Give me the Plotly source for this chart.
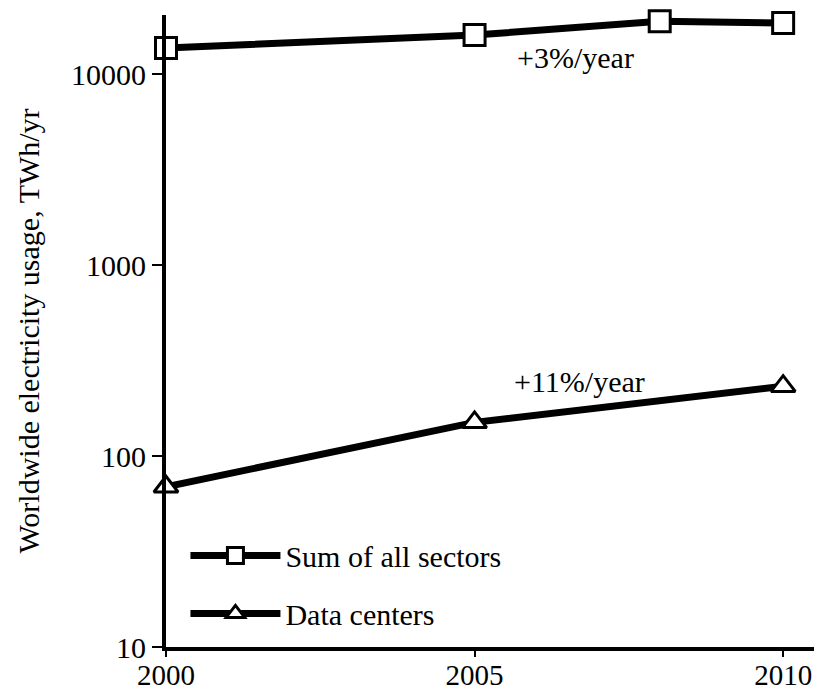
import plotly.graph_objects as go

years_sum = [2000, 2005, 2008, 2010]
sum_all = [13700, 16000, 18900, 18500]
years_dc = [2000, 2005, 2010]
data_centers = [69, 150, 232]
x_ticks = [2000, 2005, 2010]
y_ticks = [10, 100, 1000, 10000]
y_minor = [m * 10 ** e for e in range(1, 5) for m in range(2, 10) if m * 10 ** e < 20400]

FONT = "Liberation Serif"
fig = go.Figure()
fig.add_trace(go.Scatter(
    x=years_sum, y=sum_all, name="Sum of all sectors", mode="lines+markers",
    legendgroup="a",
    line=dict(color="black", width=7),
    marker=dict(symbol="square", size=21, color="white", line=dict(color="black", width=3)),
    cliponaxis=False,
))
fig.add_trace(go.Scatter(
    x=years_dc, y=data_centers, name="Data centers", mode="lines+markers",
    legendgroup="b",
    line=dict(color="black", width=7),
    marker=dict(symbol="triangle-up", size=21, color="white", line=dict(color="black", width=3)),
    cliponaxis=False,
))
fig.add_annotation(x=2006.63, y=4.085, text="+3%/year", showarrow=False,
                   font=dict(family=FONT, size=30, color="black"))
fig.add_annotation(x=2006.7, y=2.39, text="+11%/year", showarrow=False,
                   font=dict(family=FONT, size=30, color="black"))

axis_common = dict(showgrid=False, zeroline=False, showline=True, linecolor="black",
                   linewidth=4, ticks="outside", tickwidth=2, tickcolor="black",
                   automargin=False)
fig.update_layout(
    width=814, height=692,
    margin=dict(l=166, r=0, t=15, b=45),
    plot_bgcolor="white", paper_bgcolor="white",
    font=dict(family=FONT, size=30, color="black"),
    showlegend=True,
    legend=dict(x=0.03, y=0.186, xanchor="left", yanchor="top", itemwidth=90,
                font=dict(family=FONT, size=30, color="black"), tracegroupgap=16,
                bgcolor="rgba(0,0,0,0)"),
    xaxis=dict(range=[2000, 2010.5], tickvals=x_ticks, ticktext=[str(v) for v in x_ticks],
               ticklen=6, ticklabelstandoff=-7, tickfont=dict(size=29), **axis_common),
    yaxis=dict(type="log", range=[1, 4.309], tickvals=y_ticks, ticktext=[str(v) for v in y_ticks],
               ticklen=10, **axis_common,
               title=dict(text="Worldwide electricity usage, TWh/yr", standoff=24,
                          font=dict(family=FONT, size=30, color="black"))),
    yaxis2=dict(type="log", range=[1, 4.309], overlaying="y", side="left", tickvals=y_minor,
                showticklabels=False, ticklen=6, showgrid=False, zeroline=False,
                showline=False, ticks="outside", tickwidth=2, tickcolor="black",
                automargin=False),
)
fig.write_html("out.html", config={"displayModeBar": False},
               post_script="document.body.style.margin='0';")
